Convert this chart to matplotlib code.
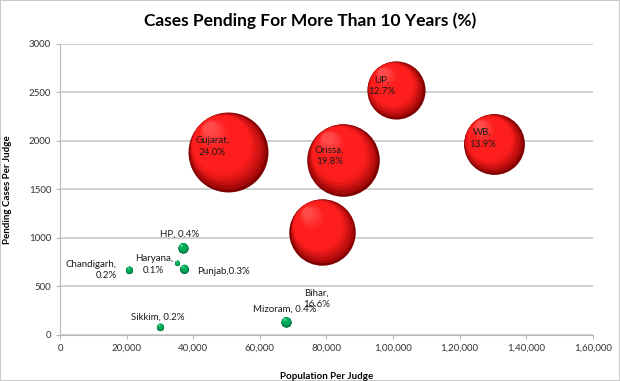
import matplotlib
matplotlib.use("Agg")
import matplotlib.pyplot as plt
import matplotlib.transforms as mtransforms
from matplotlib.ticker import FuncFormatter
import numpy as np

plt.rcParams['font.family'] = ['Lato', 'DejaVu Sans']

# data
states = ['Gujarat', 'Orissa', 'UP', 'WB', 'Bihar',
          'HP', 'Haryana', 'Punjab', 'Chandigarh', 'Sikkim', 'Mizoram']
pop_per_judge = [50300, 85100, 100800, 130200, 78800,
                 37000, 35200, 37300, 20800, 30100, 68000]
cases_per_judge = [1885, 1804, 2526, 1969, 1062,
                   897, 742, 680, 670, 82, 134]
pct_pending = [24.0, 19.8, 12.7, 13.9, 16.6,
               0.4, 0.1, 0.3, 0.2, 0.2, 0.4]
labels = ['Gujarat,\n24.0%', 'Orissa,\n19.8%', 'UP,\n12.7%', 'WB,\n13.9%',
          'Bihar,\n16.6%', 'HP, 0.4%', 'Haryana,\n0.1%', 'Punjab,0.3%',
          'Chandigarh,\n0.2%', 'Sikkim, 0.2%', 'Mizoram, 0.4%']
# label offsets (points) and alignment
label_off = [(-11, 4), (-10, 3), (-10, 3), (-8, 4), (-4, -48),
             (-3, 10), (-17, -1), (9, -2), (-9, 0), (-2, 7), (-1, 9)]
label_ha = ['center'] * 7 + ['left', 'right', 'center', 'center']

fig = plt.figure(figsize=(6.2, 3.81), dpi=100)
fig.patch.set_edgecolor('#c8c8c8')
fig.patch.set_linewidth(1.2)
ax = fig.add_axes([0.097, 0.121, 0.859, 0.764])

ax.set_xlim(0, 160000)
ax.set_ylim(0, 3000)
ax.set_yticks(np.arange(0, 3001, 500))
ax.set_xticks(np.arange(0, 160001, 20000))


def indian(v, pos):
    v = int(round(v))
    s = str(v)
    if len(s) <= 3:
        return s
    last3 = s[-3:]
    rest = s[:-3]
    parts = []
    while len(rest) > 2:
        parts.insert(0, rest[-2:])
        rest = rest[:-2]
    if rest:
        parts.insert(0, rest)
    return ','.join(parts) + ',' + last3


ax.xaxis.set_major_formatter(FuncFormatter(indian))
ax.yaxis.grid(True, color='#d0d0d0', linewidth=1.4)
ax.set_axisbelow(True)
for side in ['top', 'right']:
    ax.spines[side].set_visible(False)
for side in ['left', 'bottom']:
    ax.spines[side].set_color('#b8b8b8')
ax.tick_params(axis='both', labelsize=7, colors='#333333', length=3,
               color='#b8b8b8')

k = 138.0  # marker area per percent


def sphere(x, y, pct, dark, mid, light):
    s0 = k * pct
    r = np.sqrt(s0) / 2.0  # radius in points
    n = 18
    c_dark = np.array(matplotlib.colors.to_rgb(dark))
    c_mid = np.array(matplotlib.colors.to_rgb(mid))
    c_light = np.array(matplotlib.colors.to_rgb(light))
    ax.scatter([x], [y], s=s0, color=dark, zorder=3, linewidths=0)
    for i in range(1, n + 1):
        t = i / n
        f = 1 - 0.85 * t
        off = (1 - f) * r * 0.9
        tr = mtransforms.offset_copy(ax.transData, fig=fig,
                                     x=-off * 0.6, y=off * 0.8,
                                     units='points')
        if t < 0.3:
            c = c_dark + (c_mid - c_dark) * (t / 0.3) ** 0.7
        elif t < 0.7:
            c = c_mid
        else:
            c = c_mid + (c_light - c_mid) * (t - 0.7) / 0.3
        ax.scatter([x], [y], s=s0 * f * f, color=c, zorder=3,
                   linewidths=0, transform=tr)


for i in range(len(states)):
    if pct_pending[i] >= 1:
        sphere(pop_per_judge[i], cases_per_judge[i], pct_pending[i],
               '#800000', '#ff1e1e', '#ff4a4a')
    else:
        sphere(pop_per_judge[i], cases_per_judge[i], pct_pending[i],
               '#005a30', '#00a85a', '#50d890')
    ax.annotate(labels[i], (pop_per_judge[i], cases_per_judge[i]),
                xytext=label_off[i], textcoords='offset points',
                ha=label_ha[i], va='center', fontsize=7, color='#1a1a1a',
                linespacing=1.35, zorder=5)

ax.set_xlabel('Population Per Judge', fontsize=7, fontweight='bold',
              labelpad=14)
ax.set_ylabel('Pending Cases Per Judge', fontsize=7, fontweight='bold',
              labelpad=12)
fig.text(0.5, 0.945, 'Cases Pending For More Than 10 Years (%)',
         ha='center', va='center', fontsize=12.5, fontweight='bold')

fig.savefig('out.png', dpi=100)
